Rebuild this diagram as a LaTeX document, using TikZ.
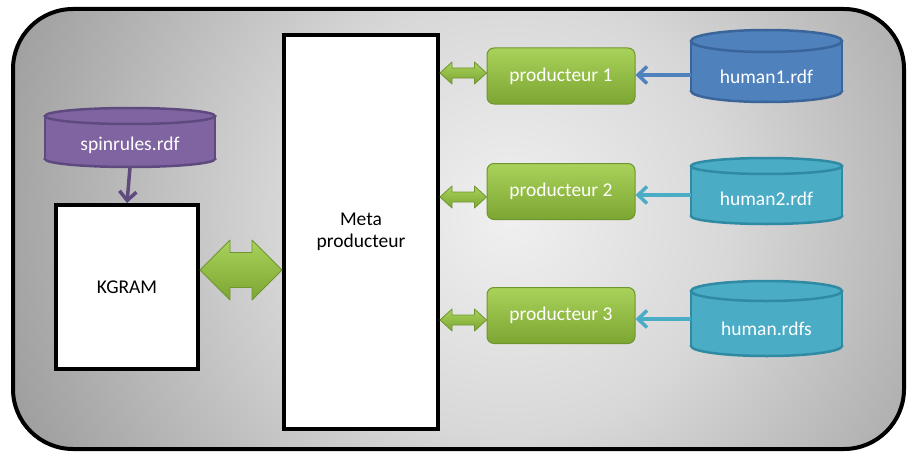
\documentclass[tikz,border=0pt]{standalone}
\usepackage{fontspec}
\setmainfont{Carlito}
\usetikzlibrary{arrows.meta,calc}
\definecolor{bgA}{HTML}{F0F0F0}
\definecolor{bgB}{HTML}{D8D8D8}
\definecolor{bgC}{HTML}{A8A8A8}
\definecolor{bgD}{HTML}{969696}
\definecolor{gTop}{HTML}{A9D25B}
\definecolor{gBot}{HTML}{7CA632}
\definecolor{gLine}{HTML}{6E9530}
\definecolor{purF}{HTML}{8064A2}
\definecolor{purL}{HTML}{5F4A80}
\definecolor{bluF}{HTML}{4F81BD}
\definecolor{bluL}{HTML}{3A659A}
\definecolor{teaF}{HTML}{4BACC6}
\definecolor{teaL}{HTML}{2F8AA3}
\pgfdeclareradialshading{bgshade}{\pgfpoint{0bp}{0bp}}{color(0bp)=(bgA); color(11bp)=(bgB); color(24bp)=(bgC); color(29bp)=(bgD); color(50bp)=(bgD)}
\newcommand\dbarrow[5]{%
  \shade[top color=gTop, bottom color=gBot, draw=gLine, line width=0.8pt, line join=round]
    let \p1=#1, \p2=#2 in
    (\x1,\y1) -- (\x1+#3,\y1+#4) -- (\x1+#3,\y1+#5) -- (\x2-#3,\y1+#5) -- (\x2-#3,\y1+#4) -- (\x2,\y1)
    -- (\x2-#3,\y1-#4) -- (\x2-#3,\y1-#5) -- (\x1+#3,\y1-#5) -- (\x1+#3,\y1-#4) -- cycle;}
\newcommand\cyl[9]{%
  \pgfmathsetmacro\cx{(#2+#4)/2}\pgfmathsetmacro\rx{(#4-#2)/2}%
  \pgfmathsetmacro\yt{#3+#6}\pgfmathsetmacro\yb{#5-#6}%
  \filldraw[fill=#7,draw=#8,line width=2.5pt] (\cx,\yb) ellipse [x radius=\rx, y radius=#6];
  \fill[#7] (#2,\yt) rectangle (#4,\yb);
  \draw[#8,line width=2.5pt] (#2,\yt) -- (#2,\yb) (#4,\yt) -- (#4,\yb);
  \filldraw[fill=#7,draw=#8,line width=2.5pt] (\cx,\yt) ellipse [x radius=\rx, y radius=#6];
  \pgfmathsetmacro\ny{(#3+2*#6+#5)/2}\pgfmathsetmacro\nh{#5-#3-2*#6}\pgfmathsetmacro\nw{#4-#2}%
  \node[text=white, minimum width=\nw pt, minimum height=\nh pt, inner sep=0pt] (#1) at (\cx,\ny) {#9};}
\begin{document}
\begin{tikzpicture}[x=1pt,y=-1pt, font=\fontsize{19.5}{22}\selectfont,
  box/.style={draw=black, line width=4pt, fill=white, inner sep=0pt, align=center},
  prod/.style={rounded corners=7pt, draw=gLine, line width=1pt, top color=gTop, bottom color=gBot,
    text=white, minimum width=148pt, minimum height=56pt, inner sep=0pt},
  link/.style={line width=3.5pt, -{Straight Barb[length=9pt,width=17pt,line width=3.5pt]}}]
\useasboundingbox (0,0) rectangle (907,452);
\begin{scope}
  \clip[rounded corners=60pt] (13,9) rectangle (904,449);
  \shade[shading=bgshade] (10,-285) rectangle (1010,715);
\end{scope}
\draw[line width=4pt, rounded corners=60pt] (13,9) rectangle (904,449);

\node[box, minimum width=154pt, minimum height=393pt] (meta) at (361,232) {Meta\\producteur};
\node[box, minimum width=142pt, minimum height=164pt] (kgram) at (127,287) {KGRAM};

\node[prod] (p1) at (561,76) {producteur 1};
\node[prod] (p2) at (561,191.5) {producteur 2};
\node[prod] (p3) at (561,315.5) {producteur 3};

\cyl{spin}{45}{108}{215}{167}{8}{purF}{purL}{spinrules.rdf}
\cyl{h1}{691}{30}{842}{102}{11}{bluF}{bluL}{human1.rdf}
\cyl{h2}{691}{158}{842}{224}{8}{teaF}{teaL}{human2.rdf}
\cyl{h3}{691}{281}{842}{356}{10}{teaF}{teaL}{human.rdfs}

\coordinate (a1) at (0,75);
\coordinate (a2) at (0,195);
\coordinate (a3) at (0,319);
\coordinate (s1) at (0,73);
\coordinate (s2) at (0,197);
\coordinate (s3) at (0,320);
\coordinate (bg) at (0,270);

\draw[link, purL] (spin.south) -- (kgram.north);
\draw[link, bluF] (h1.west |- a1) -- (p1.east |- a1);
\draw[link, teaF] (h2.west |- a2) -- (p2.east |- a2);
\draw[link, teaF] (h3.west |- a3) -- (p3.east |- a3);

\dbarrow{(meta.east |- s1)}{(p1.west |- s1)}{12pt}{11pt}{5pt}
\dbarrow{(meta.east |- s2)}{(p2.west |- s2)}{12pt}{11pt}{5pt}
\dbarrow{(meta.east |- s3)}{(p3.west |- s3)}{12pt}{11pt}{5pt}
\dbarrow{(kgram.east |- bg)}{(meta.west |- bg)}{30pt}{30pt}{17.5pt}
\end{tikzpicture}
\end{document}
